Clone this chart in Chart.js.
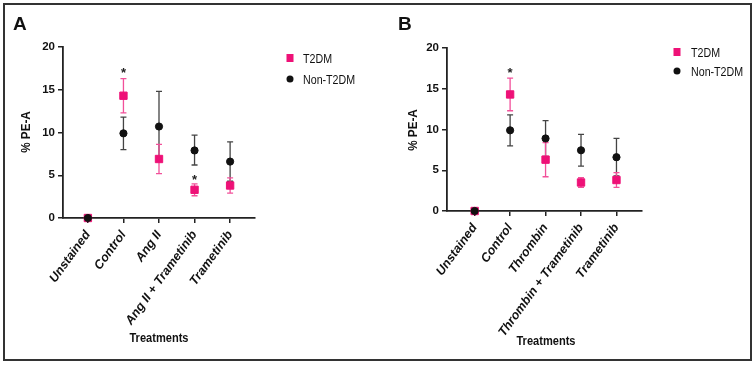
<!DOCTYPE html>
<html>
<head>
<meta charset="utf-8">
<script src="https://cdn.jsdelivr.net/npm/chart.js@4"></script>
<style>
  body { margin: 0; background: #fff; font-family: "Liberation Sans", Arial, sans-serif; }
  #wrap { position: relative; width: 755px; height: 366px; }
  #frame { position: absolute; left: 3px; top: 3px; width: 745px; height: 354px; border: 2px solid #333; }
  canvas { position: absolute; top: 0; }
  .lbl { position: absolute; color: #111; white-space: nowrap; }
  .panel { font-weight: bold; font-size: 19px; }
  .ytitle { font-weight: bold; font-size: 13px; transform: translate(-50%, -50%) rotate(-90deg) scaleX(0.9); }
  .xtitle { font-weight: bold; font-size: 13.5px; transform: translate(-50%, -50%) scaleX(0.82); }
  .leg { font-size: 13px; transform-origin: left center; transform: translateY(-50%) scaleX(0.82); }
  .sq { position: absolute; width: 7px; height: 8px; background: #ee1177; transform: translate(-50%, -50%); }
  .dot { position: absolute; width: 7px; height: 7px; border-radius: 50%; background: #111; transform: translate(-50%, -50%); }
</style>
</head>
<body>
<div id="wrap">
  <div id="frame"></div>
  <canvas id="chartA" width="380" height="366" style="left:0"></canvas>
  <canvas id="chartB" width="375" height="366" style="left:380px"></canvas>

  <div class="lbl panel" style="left:13px;top:13px">A</div>
  <div class="lbl ytitle" style="left:25px;top:132px">% PE-A</div>
  <div class="lbl xtitle" style="left:159px;top:337px">Treatments</div>
  <div class="sq" style="left:290px;top:58px"></div>
  <div class="lbl leg" style="left:303px;top:58px">T2DM</div>
  <div class="dot" style="left:290px;top:79px"></div>
  <div class="lbl leg" style="left:303px;top:79px">Non-T2DM</div>

  <div class="lbl panel" style="left:398px;top:13px">B</div>
  <div class="lbl ytitle" style="left:412px;top:130px">% PE-A</div>
  <div class="lbl xtitle" style="left:546px;top:340px">Treatments</div>
  <div class="sq" style="left:677px;top:52px"></div>
  <div class="lbl leg" style="left:691px;top:52px">T2DM</div>
  <div class="dot" style="left:677px;top:71px"></div>
  <div class="lbl leg" style="left:691px;top:71px">Non-T2DM</div>
</div>

<script>
// Panel A data
const categoriesA = ["Unstained", "Control", "Ang II", "Ang II + Trametinib", "Trametinib"];
const t2dmA = [0, 14.3, 6.9, 3.3, 3.8];
const t2dmLowA = [0, 12.3, 5.2, 2.6, 2.9];
const t2dmHighA = [0, 16.3, 8.6, 4.0, 4.7];
const nonA = [0, 9.9, 10.7, 7.9, 6.6];
const nonLowA = [0, 8.0, 6.7, 6.2, 4.3];
const nonHighA = [0, 11.8, 14.8, 9.7, 8.9];
const starsA = [null, 17.3, null, 4.7, null];

// Panel B data
const categoriesB = ["Unstained", "Control", "Thrombin", "Thrombin + Trametinib", "Trametinib"];
const t2dmB = [0, 14.3, 6.3, 3.5, 3.8];
const t2dmLowB = [0, 12.3, 4.2, 2.9, 2.9];
const t2dmHighB = [0, 16.3, 8.4, 4.1, 4.7];
const nonB = [0, 9.9, 8.9, 7.45, 6.6];
const nonLowB = [0, 8.0, 6.7, 5.5, 4.3];
const nonHighB = [0, 11.8, 11.1, 9.4, 8.9];
const starsB = [null, 17.2, null, null, null];

const yTicks = [0, 5, 10, 15, 20];
const PINK = "#ee1177";
const BLACK = "#111";

// error bars + significance stars, drawn through the chart's scales
const errorBars = {
  id: "errorBars",
  beforeDatasetsDraw(chart) {
    const { ctx, scales: { x, y } } = chart;
    chart.data.datasets.forEach(ds => {
      ctx.save();
      ctx.strokeStyle = ds.barColor;
      ctx.lineWidth = 1.3;
      ds.data.forEach((p, i) => {
        const px = x.getPixelForValue(p.x);
        const top = y.getPixelForValue(ds.high[i]);
        const bot = y.getPixelForValue(ds.low[i]);
        if (bot - top < 1) return;
        ctx.beginPath();
        ctx.moveTo(px, top); ctx.lineTo(px, bot);
        ctx.moveTo(px - 3, top); ctx.lineTo(px + 3, top);
        ctx.moveTo(px - 3, bot); ctx.lineTo(px + 3, bot);
        ctx.stroke();
      });
      ctx.restore();
    });
  },
  afterDraw(chart) {
    const { ctx, scales: { x, y } } = chart;
    const stars = chart.options.plugins.errorBars.stars;
    ctx.save();
    ctx.fillStyle = "#222";
    ctx.font = "bold 13px 'Liberation Sans'";
    ctx.textAlign = "center";
    ctx.textBaseline = "middle";
    stars.forEach((s, i) => {
      if (s === null) return;
      ctx.fillText("*", x.getPixelForValue(i), y.getPixelForValue(s) + 3);
    });
    ctx.restore();
  }
};

function makeChart(id, cats, t2, t2lo, t2hi, non, nonLo, nonHi, stars, box) {
  const pts = arr => arr.map((v, i) => ({ x: i, y: v }));
  return new Chart(document.getElementById(id), {
    type: "scatter",
    data: {
      datasets: [
        // first dataset is painted on top
        { label: "Non-T2DM", data: pts(non), low: nonLo, high: nonHi, barColor: "#444", clip: false,
          pointStyle: "circle", pointRadius: 3.6, backgroundColor: BLACK, borderColor: BLACK },
        { label: "T2DM", data: pts(t2), low: t2lo, high: t2hi, barColor: "#f2509a", clip: false,
          pointStyle: "rect", pointRadius: 5.2, backgroundColor: PINK, borderColor: PINK }
      ]
    },
    options: {
      responsive: false,
      animation: false,
      layout: { padding: { left: 0, top: box.top, right: box.right, bottom: 0 } },
      plugins: { legend: { display: false }, tooltip: { enabled: false }, errorBars: { stars } },
      scales: {
        x: {
          type: "linear", min: box.xmin, max: box.xmax,
          afterBuildTicks: s => { s.ticks = cats.map((c, i) => ({ value: i })); },
          afterFit: s => { s.height = box.xh; },
          ticks: {
            callback: v => cats[v], minRotation: 54, maxRotation: 54, padding: 5,
            color: "#111",
            font: { family: "'Liberation Sans Narrow', 'Liberation Sans'", size: 12.5, weight: "bold", style: "italic" }
          },
          grid: { drawOnChartArea: false, tickLength: 5, color: "#222", lineWidth: 1.5 },
          border: { color: "#222", width: 1.8 }
        },
        y: {
          min: 0, max: 20,
          afterBuildTicks: s => { s.ticks = yTicks.map(v => ({ value: v })); },
          afterFit: s => { s.width = box.yw; },
          ticks: { color: "#111", padding: 3, font: { family: "Liberation Sans", size: 11.5, weight: "bold" } },
          grid: { drawOnChartArea: false, tickLength: 5, color: "#222", lineWidth: 1.5 },
          border: { color: "#222", width: 1.8 }
        }
      }
    },
    plugins: [errorBars]
  });
}

makeChart("chartA", categoriesA, t2dmA, t2dmLowA, t2dmHighA, nonA, nonLowA, nonHighA, starsA,
  { top: 47, right: 125, xh: 148, yw: 63, xmin: -0.7, xmax: 4.7 });
makeChart("chartB", categoriesB, t2dmB, t2dmLowB, t2dmHighB, nonB, nonLowB, nonHighB, starsB,
  { top: 48, right: 113, xh: 155, yw: 67, xmin: -0.78, xmax: 4.72 });
</script>
</body>
</html>
